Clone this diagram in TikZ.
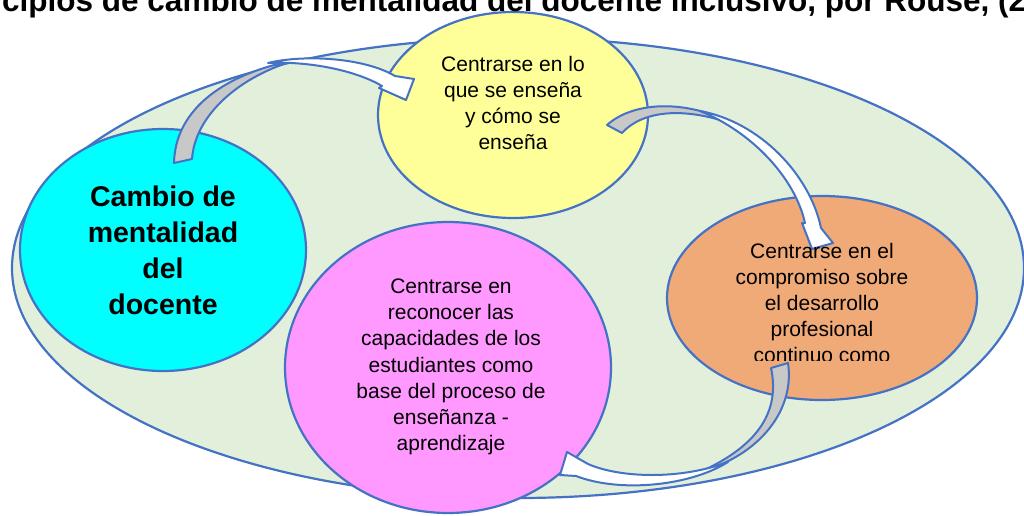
\documentclass[tikz,border=0pt]{standalone}
\usepackage{fontspec}
\setmainfont{Liberation Sans}
\usetikzlibrary{shapes.geometric}
\definecolor{bord}{HTML}{4472C4}
\definecolor{outerfill}{HTML}{E2EFDA}
\definecolor{cyanf}{HTML}{00FFFF}
\definecolor{yelf}{HTML}{FFFF99}
\definecolor{orf}{HTML}{F0AA78}
\definecolor{pinkf}{HTML}{FF99FF}
\definecolor{greyf}{HTML}{C8C8C8}
\begin{document}
\begin{tikzpicture}[x=1pt,y=-1pt,
  bubble/.style={ellipse, draw=bord, line width=2.2pt, inner sep=0pt, outer sep=0pt},
  txt/.style={align=center, inner sep=0pt, text=black, font=\fontsize{21}{26}\selectfont},
  pinktxt/.style={align=center, inner sep=0pt, text=black, font=\fontsize{21}{26.2}\selectfont},
  bigtxt/.style={align=center, inner sep=0pt, text=black, font=\bfseries\fontsize{28.5}{36}\selectfont},
  arrback/.style={draw=bord, fill=greyf, line width=2pt, line join=round},
  arrfront/.style={draw=bord, fill=white, line width=2pt, line join=round}]
\useasboundingbox (0,0) rectangle (1024,516);
\fill[white] (0,0) rectangle (1024,516);
% outer ellipse
\node[bubble, fill=outerfill, minimum width=1012pt, minimum height=460pt] (outer) at (518,268) {};
% inner ellipses
\node[bubble, fill=cyanf, minimum width=286pt, minimum height=242pt] (cyan) at (163,250) {};
\node[bubble, fill=yelf, minimum width=270pt, minimum height=206pt] (yel) at (513,115) {};
\node[bubble, fill=orf, minimum width=310pt, minimum height=204pt] (ora) at (822,298) {};
\node[bubble, fill=pinkf, minimum width=326pt, minimum height=291pt] (pink) at (448,367.5) {};
% arrow 1: cyan -> yellow
\filldraw[arrback] (174,163) .. controls (175,115) and (215,75) .. (300,59)
  .. controls (240,75) and (195,115) .. (192,159) -- cycle;
\filldraw[arrfront] (268,63) .. controls (305,54) and (365,58) .. (395,76)
  -- (414,79) -- (406,100) -- (379,88) -- (382,86)
  .. controls (355,70) and (308,61) .. (268,63) -- cycle;
% arrow 2: yellow -> orange
\filldraw[arrback] (607,125) .. controls (635,100) and (690,100) .. (735,125)
  .. controls (690,108) and (645,108) .. (622,133) -- cycle;
\filldraw[arrfront] (700,111) .. controls (760,122) and (810,175) .. (821,228)
  -- (833,243) -- (812,249) -- (802,223) -- (805,223)
  .. controls (795,178) and (752,132) .. (700,111) -- cycle;
% arrow 3: orange -> pink
\filldraw[arrback] (771,368) .. controls (780,410) and (760,445) .. (700,472)
  .. controls (760,455) and (795,410) .. (788,363) -- cycle;
\filldraw[arrfront] (728,462) .. controls (680,480) and (620,478) .. (588,464)
  -- (567,452) -- (560,475) -- (576,476)
  .. controls (620,493) and (690,486) .. (728,462) -- cycle;
% texts
\node[bigtxt] (cyant) at (cyan.center) {Cambio de\\mentalidad\\del\\docente};
\node[txt] (yelt) at (513,103) {Centrarse en lo\\que se enseña\\y cómo se\\enseña};
\node[pinktxt] (pinkt) at (451,367) {Centrarse en\\reconocer las\\capacidades de los\\estudiantes como\\base del proceso de\\enseñanza -\\aprendizaje};
\begin{scope}
\clip (660,200) rectangle (990,360);
\node[txt] (orat) at (822,303) {Centrarse en el\\compromiso sobre\\el desarrollo\\profesional\\continuo como};
\end{scope}
% title (cut by the page edge, as in the reference)
\node[anchor=base west, inner sep=0pt, font=\bfseries\fontsize{31.5}{36}\selectfont] (title) at (2,12) {cipios de cambio de mentalidad del docente inclusivo, por Rouse, (2};
\end{tikzpicture}
\end{document}
